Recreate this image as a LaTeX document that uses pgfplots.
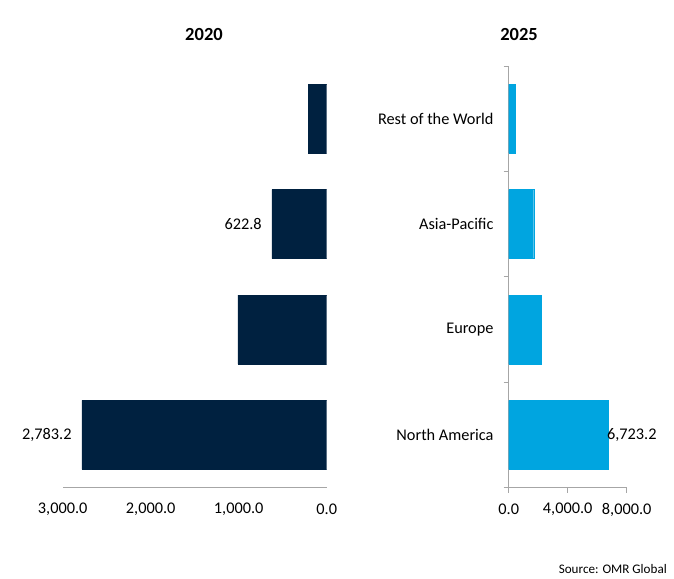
\documentclass[border=0pt]{standalone}
\usepackage{fontspec}
\setmainfont{Carlito}
\usepackage{pgfplots}
\pgfplotsset{compat=1.18}
\definecolor{navy}{RGB}{0,33,64}
\definecolor{skyb}{RGB}{0,165,224}
\definecolor{axgray}{RGB}{166,166,166}
\begin{document}
\begin{tikzpicture}[x=1bp,y=1bp]
\path[use as bounding box] (0,0) rectangle (674,579);
\pgfplotsset{
  every axis/.append style={
    font=\fontsize{16.3bp}{19bp}\selectfont,
    scale only axis,
    height=421.7bp,
    ymin=-0.5, ymax=3.5,
    /pgf/number format/assume math mode=true,
    /pgf/number format/.cd, fixed, fixed zerofill, precision=1, 1000 sep={,},
  },
}
% Left: 2020
\begin{axis}[
  at={(62.7bp,91.3bp)}, anchor=south west,
  width=264bp,
  xbar, bar width=69bp,
  x dir=reverse,
  xmin=0, xmax=3000,
  xtick={0,1000,2000,3000},
  axis x line=bottom, axis y line=none,
  axis line style={-, draw=axgray, line width=0.9bp},
  major tick length=0pt,
  ytick=\empty,
  xticklabel style={anchor=center, yshift=-22bp, inner sep=0pt},
  point meta=explicit symbolic,
  nodes near coords,
  every node near coord/.append style={anchor=east, inner sep=0pt, xshift=-10bp},
]
\addplot[fill=navy, draw=navy] coordinates {
  (2783.2,0) [2,783.2]
  (1010,1) []
  (622.8,2) [622.8]
  (209,3) []
};
\end{axis}
% Right: 2025
\begin{axis}[
  at={(508.7bp,91.3bp)}, anchor=south west,
  width=118bp,
  xbar, bar width=69bp,
  xmin=0, xmax=8000,
  xtick={0,4000,8000},
  axis x line=bottom, axis y line=left,
  axis line style={-, draw=axgray, line width=0.9bp},
  tick style={draw=axgray, line width=0.9bp},
  tick align=outside,
  major tick length=5bp,
  ytick={0,1,2,3},
  yticklabels={North America, Europe, Asia-Pacific, Rest of the World},
  y tick style={draw=none},
  minor ytick={-0.5,0.5,1.5,2.5,3.5},
  minor tick length=5bp,
  minor y tick style={draw=axgray, line width=0.9bp},
  xticklabel style={anchor=center, yshift=-17bp, inner sep=0pt},
  yticklabel style={anchor=east, inner sep=0pt, xshift=-10bp},
  point meta=explicit symbolic,
  nodes near coords,
  every node near coord/.append style={anchor=west, inner sep=0pt, xshift=-1bp},
]
\addplot[fill=skyb, draw=skyb] coordinates {
  (6723.2,0) [6,723.2]
  (2190,1) []
  (1695,2) []
  (427,3) []
};
\end{axis}
\node[font=\bfseries\fontsize{18.5bp}{22bp}\selectfont] at (204,544) {2020};
\node[font=\bfseries\fontsize{18.5bp}{22bp}\selectfont] at (519,544) {2025};
\node[font=\fontsize{13.1bp}{16bp}\selectfont, anchor=east, inner sep=0pt] at (667,10) {Source: OMR Global};
\end{tikzpicture}
\end{document}
